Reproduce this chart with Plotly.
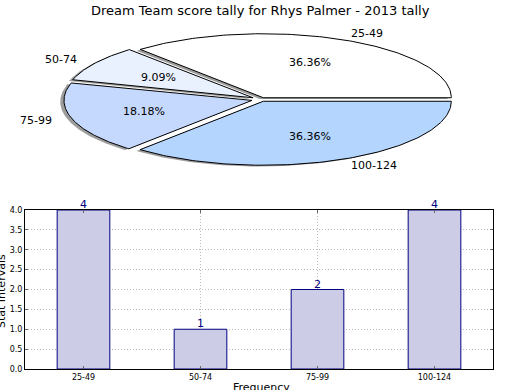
import numpy as np
import plotly.graph_objects as go

categories = ["25-49", "50-74", "75-99", "100-124"]
frequencies = [4, 1, 2, 4]
pie_colors = ["#ffffff", "#eaf1fe", "#c5d8fe", "#b4d5fe"]
explode = [0.03, 0.05, 0.05, 0.03]
title_text = "Dream Team score tally for Rhys Palmer - 2013 tally"
x_title = "Frequency"
y_title = "Stat Intervals"

W, H = 520, 390
FONT = "DejaVu Sans"

cx_px, cy_px, rx_px, ry_px = 261.0, 99.5, 188.0, 64.0
pie_top, pie_bot = 25.0, 185.0

fig = go.Figure()

total = float(sum(frequencies))
wedges = []
start = 0.0
for v, e in zip(frequencies, explode):
    a1 = start + 360.0 * v / total
    wedges.append((start, a1, e))
    start = a1


def wedge_xy(a0, a1, e, ox=0.0, oy=0.0):
    mid = np.radians((a0 + a1) / 2)
    cx = e * np.cos(mid) + ox
    cy = e * np.sin(mid) + oy
    t = np.radians(np.linspace(a0, a1, 120))
    xs = np.concatenate([[cx], cx + np.cos(t), [cx]])
    ys = np.concatenate([[cy], cy + np.sin(t), [cy]])
    return xs, ys

for (a0, a1, e) in wedges:
    xs, ys = wedge_xy(a0, a1, e, -0.02, -0.02)
    fig.add_trace(go.Scatter(x=xs, y=ys, mode="lines", fill="toself",
                             fillcolor="rgba(60,60,60,0.5)", line=dict(width=0),
                             xaxis="x2", yaxis="y2", hoverinfo="skip", showlegend=False))
for (a0, a1, e), col in zip(wedges, pie_colors):
    xs, ys = wedge_xy(a0, a1, e)
    fig.add_trace(go.Scatter(x=xs, y=ys, mode="lines", fill="toself",
                             fillcolor=col, line=dict(width=1, color="black"),
                             xaxis="x2", yaxis="y2", hoverinfo="skip", showlegend=False))

annotations = []
for (a0, a1, e), lab, v in zip(wedges, categories, frequencies):
    mid = np.radians((a0 + a1) / 2)
    r_lab = 1.1 + e
    lx, ly = r_lab * np.cos(mid), r_lab * np.sin(mid)
    annotations.append(dict(x=lx, y=ly, xref="x2", yref="y2", text=lab, showarrow=False,
                            xanchor="left" if lx > 0 else "right", yanchor="middle",
                            font=dict(family=FONT, size=11, color="black")))
    r_p = 0.6 + e
    annotations.append(dict(x=r_p * np.cos(mid), y=r_p * np.sin(mid), xref="x2", yref="y2",
                            text="%.2f%%" % (100.0 * v / total), showarrow=False,
                            xanchor="center", yanchor="middle",
                            font=dict(family=FONT, size=11, color="black")))

fig.add_trace(go.Bar(x=categories, y=frequencies, width=0.45,
                     marker=dict(color="rgb(204,204,230)", line=dict(color="#000080", width=1)),
                     xaxis="x", yaxis="y", hoverinfo="skip", showlegend=False))

for c, v in zip(categories, frequencies):
    annotations.append(dict(x=c, y=v, xref="x", yref="y", text=str(v), showarrow=False,
                            xanchor="center", yanchor="bottom", yshift=-3,
                            font=dict(family=FONT, size=11, color="#000080")))

annotations.append(dict(x=0.5, y=1 - 10.5 / H, xref="paper", yref="paper", text=title_text,
                        showarrow=False, xanchor="center", yanchor="middle",
                        font=dict(family=FONT, size=13, color="black")))
annotations.append(dict(x=1.0 / W, y=1 - 291.0 / H, xref="paper", yref="paper", text=y_title,
                        showarrow=False, xanchor="center", yanchor="middle", textangle=-90,
                        font=dict(family=FONT, size=11, color="black")))
annotations.append(dict(x=261.0 / W, y=1 - 387.5 / H, xref="paper", yref="paper", text=x_title,
                        showarrow=False, xanchor="center", yanchor="middle",
                        font=dict(family=FONT, size=11, color="black")))

axis_common = dict(showline=True, linecolor="black", linewidth=1, mirror="ticks",
                   ticks="inside", ticklen=3, tickcolor="#666666", showgrid=True,
                   gridcolor="#bbbbbb", griddash="1px,2px", gridwidth=1, zeroline=False,
                   automargin=False,
                   tickfont=dict(family=FONT, size=8, color="black"), layer="above traces")

fig.update_layout(
    width=W, height=H, margin=dict(l=0, r=0, t=0, b=0, pad=0, autoexpand=False),
    paper_bgcolor="white", plot_bgcolor="white",
    font=dict(family=FONT),
    xaxis=dict(domain=[25.0 / W, 493.0 / W], range=[-0.5, 3.5], type="category",
               anchor="y", **axis_common),
    yaxis=dict(domain=[1 - 369.0 / H, 1 - 210.0 / H], range=[0, 4], dtick=0.5,
               tickformat=".1f", anchor="x", **axis_common),
    xaxis2=dict(domain=[0, 1], range=[-cx_px / rx_px, (W - cx_px) / rx_px],
                visible=False, anchor="y2", fixedrange=True, automargin=False),
    yaxis2=dict(domain=[1 - pie_bot / H, 1 - pie_top / H],
                range=[-(pie_bot - cy_px) / ry_px, (cy_px - pie_top) / ry_px],
                visible=False, anchor="x2", fixedrange=True, automargin=False),
    annotations=annotations,
    showlegend=False,
)

fig.write_html("out.html")
